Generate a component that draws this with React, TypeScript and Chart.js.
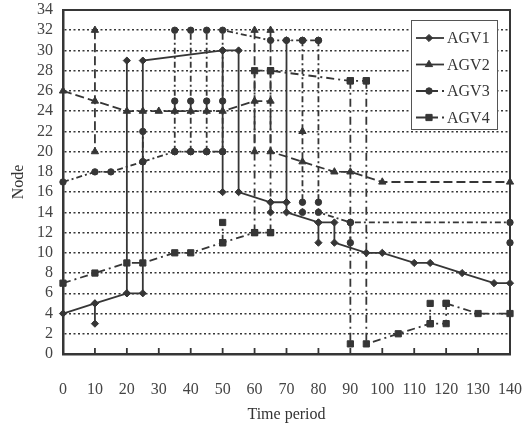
import React, { useEffect, useRef } from "react";
import { Chart, registerables } from "chart.js";

Chart.register(...registerables);

type Pt = [number, number];

const SERIES_NAMES = ["AGV1", "AGV2", "AGV3", "AGV4"];
const X_MIN = 0;
const X_MAX = 140;
const X_STEP = 10;
const Y_MIN = 0;
const Y_MAX = 34;
const Y_STEP = 2;
const X_TITLE = "Time period";
const Y_TITLE = "Node";

// Each AGV route is a set of polylines (time period, node)
const AGV1_PATHS: Pt[][] = [
  [[0, 4], [10, 5], [20, 6], [25, 6], [25, 29], [50, 30], [55, 30], [55, 16], [65, 15], [70, 15], [70, 14], [80, 13], [85, 13], [85, 11], [95, 10], [100, 10], [110, 9], [115, 9], [125, 8], [135, 7], [140, 7]],
  [[10, 3], [10, 5]],
  [[20, 6], [20, 29]],
  [[50, 30], [50, 16]],
  [[65, 15], [65, 14]],
  [[70, 15], [70, 31]],
  [[80, 13], [80, 11]],
];

const AGV2_PATHS: Pt[][] = [
  [[0, 26], [10, 25], [20, 24], [25, 24], [30, 24], [35, 24], [40, 24], [45, 24], [50, 24], [60, 25], [65, 25]],
  [[10, 32], [10, 20]],
  [[60, 32], [60, 20]],
  [[65, 32], [65, 20], [75, 19], [85, 18], [90, 18], [100, 17], [140, 17]],
  [[75, 22]],
];

const AGV3_PATHS: Pt[][] = [
  [[0, 17], [10, 18], [15, 18], [25, 19], [35, 20], [40, 20], [45, 20], [50, 20]],
  [[25, 19], [25, 22]],
  [[35, 20], [35, 25], [35, 32]],
  [[40, 20], [40, 25], [40, 32]],
  [[45, 20], [45, 25], [45, 32]],
  [[50, 20], [50, 25], [50, 32], [65, 31], [70, 31], [75, 31], [80, 31]],
  [[75, 31], [75, 15], [75, 14]],
  [[80, 31], [80, 15], [80, 14], [90, 13], [140, 13], [140, 11]],
  [[90, 13], [90, 11]],
];

const AGV4_PATHS: Pt[][] = [
  [[0, 7], [10, 8], [20, 9], [25, 9], [35, 10], [40, 10], [50, 11], [60, 12], [65, 12]],
  [[50, 11], [50, 13]],
  [[60, 12], [60, 28], [65, 28], [90, 27], [95, 27]],
  [[65, 12], [65, 28]],
  [[90, 27], [90, 1]],
  [[95, 27], [95, 1], [105, 2], [115, 3], [120, 3], [120, 5]],
  [[115, 3], [115, 5]],
  [[120, 5], [130, 4], [140, 4]],
];

const ALL_PATHS = [AGV1_PATHS, AGV2_PATHS, AGV3_PATHS, AGV4_PATHS];

const INK = "#363636";
const FONT = "'Liberation Serif', 'Times New Roman', serif";

const STYLES = [
  { dash: [] as number[], point: "rectRot", radius: 3.6 },
  { dash: [9, 4], point: "triangle", radius: 4.2 },
  { dash: [6, 3, 2, 3], point: "circle", radius: 3.2 },
  { dash: [8, 4, 2, 4], point: "rect", radius: 4.4 },
];

function toData(paths: Pt[][]) {
  const out: { x: number; y: number | null }[] = [];
  paths.forEach((p, i) => {
    if (i > 0) out.push({ x: p[0][0], y: null });
    p.forEach(([x, y]) => out.push({ x, y }));
  });
  return out;
}

function drawMarker(ctx: CanvasRenderingContext2D, style: string, r: number, x: number, y: number) {
  ctx.beginPath();
  if (style === "circle") {
    ctx.arc(x, y, r, 0, Math.PI * 2);
  } else if (style === "rect") {
    const s = Math.SQRT1_2 * r;
    ctx.rect(x - s, y - s, 2 * s, 2 * s);
  } else if (style === "rectRot") {
    ctx.moveTo(x, y - r);
    ctx.lineTo(x + r, y);
    ctx.lineTo(x, y + r);
    ctx.lineTo(x - r, y);
    ctx.closePath();
  } else if (style === "triangle") {
    const w = (r * Math.sqrt(3)) / 2;
    ctx.moveTo(x, y - r);
    ctx.lineTo(x + w, y + r / 2);
    ctx.lineTo(x - w, y + r / 2);
    ctx.closePath();
  }
  ctx.fill();
  ctx.stroke();
}

const framePlugin = {
  id: "frameAndTicks",
  beforeDatasetsDraw(chart: any) {
    const { ctx, chartArea } = chart;
    const xs = chart.scales.x;
    ctx.save();
    ctx.strokeStyle = INK;
    ctx.lineWidth = 2;
    ctx.beginPath();
    ctx.moveTo(chartArea.left, chartArea.top);
    ctx.lineTo(chartArea.right, chartArea.top);
    ctx.lineTo(chartArea.right, chartArea.bottom);
    ctx.stroke();
    ctx.lineWidth = 1.8;
    xs.ticks.forEach((t: any) => {
      const px = xs.getPixelForValue(t.value);
      ctx.beginPath();
      ctx.moveTo(px, chartArea.bottom);
      ctx.lineTo(px, chartArea.bottom - 6);
      ctx.stroke();
    });
    ctx.restore();
  },
};

const legendPlugin = {
  id: "boxLegend",
  afterDatasetsDraw(chart: any) {
    const { ctx, chartArea } = chart;
    const right = chartArea.right - 13;
    const left = right - 86;
    const top = chartArea.top + 10;
    const rowH = 26.5;
    const h = rowH * SERIES_NAMES.length + 3;
    ctx.save();
    ctx.fillStyle = "#ffffff";
    ctx.fillRect(left, top, right - left, h);
    ctx.strokeStyle = "#555";
    ctx.lineWidth = 1;
    ctx.strokeRect(left + 0.5, top + 0.5, right - left, h);
    SERIES_NAMES.forEach((name, i) => {
      const y = top + 18 + i * rowH;
      const st = STYLES[i];
      ctx.strokeStyle = INK;
      ctx.lineWidth = 1.8;
      ctx.setLineDash(i >= 2 ? [22, 4, 2, 4] : []);
      ctx.beginPath();
      ctx.moveTo(left + 5, y);
      ctx.lineTo(left + 33, y);
      ctx.stroke();
      ctx.setLineDash([]);
      ctx.fillStyle = INK;
      ctx.lineWidth = 1;
      drawMarker(ctx, st.point, st.radius, left + 18, y);
      ctx.fillStyle = INK;
      ctx.font = `16px ${FONT}`;
      ctx.textBaseline = "middle";
      ctx.textAlign = "left";
      ctx.fillText(name, left + 36, y + 1);
    });
    ctx.restore();
  },
};

export default function App() {
  const ref = useRef<HTMLCanvasElement | null>(null);

  useEffect(() => {
    document.body.style.margin = "0";
    const canvas = ref.current;
    if (!canvas) return;

    const datasets = ALL_PATHS.map((paths, i) => ({
      label: SERIES_NAMES[i],
      data: toData(paths),
      borderColor: INK,
      backgroundColor: INK,
      borderWidth: 1.8,
      borderDash: STYLES[i].dash,
      pointStyle: STYLES[i].point as any,
      pointRadius: STYLES[i].radius,
      pointBackgroundColor: INK,
      pointBorderColor: INK,
      pointBorderWidth: 1,
      tension: 0,
      spanGaps: false,
      clip: false as any,
    }));

    const chart = new Chart(canvas, {
      type: "line",
      data: { datasets },
      options: {
        animation: false,
        responsive: false,
        layout: { padding: { top: 10, right: 21, left: 0, bottom: 0 } },
        plugins: {
          legend: { display: false },
          tooltip: { enabled: false },
        },
        scales: {
          x: {
            type: "linear",
            min: X_MIN,
            max: X_MAX,
            ticks: {
              stepSize: X_STEP,
              autoSkip: false,
              color: "#444",
              padding: 26,
              maxRotation: 0,
              font: { family: FONT, size: 16 },
            },
            grid: { drawOnChartArea: false, drawTicks: false },
            border: { display: true, color: INK, width: 2.5 },
            title: {
              display: true,
              text: X_TITLE,
              color: "#333",
              font: { family: FONT, size: 16 },
              padding: { top: 0, bottom: 4 },
            },
            afterFit: (s: any) => {
              s.height = 74;
              s.paddingLeft = 0;
              s.paddingRight = 0;
            },
          },
          y: {
            type: "linear",
            min: Y_MIN,
            max: Y_MAX,
            ticks: {
              stepSize: Y_STEP,
              autoSkip: false,
              color: "#444",
              padding: 10,
              font: { family: FONT, size: 16 },
            },
            grid: { color: INK, lineWidth: 1.5, drawTicks: false },
            border: { display: true, color: INK, width: 2.5, dash: [2, 2.5] },
            title: {
              display: true,
              text: Y_TITLE,
              color: "#333",
              font: { family: FONT, size: 16 },
              padding: { top: 9, bottom: 0 },
            },
            afterFit: (s: any) => {
              s.width = 63;
              s.paddingTop = 0;
              s.paddingBottom = 0;
            },
          },
        },
      },
      plugins: [framePlugin, legendPlugin],
    });

    return () => chart.destroy();
  }, []);

  return (
    <div style={{ position: "fixed", left: 0, top: 0, width: 531, height: 428, background: "#fff" }}>
      <canvas ref={ref} width={531} height={428} style={{ width: 531, height: 428, display: "block" }} />
    </div>
  );
}
